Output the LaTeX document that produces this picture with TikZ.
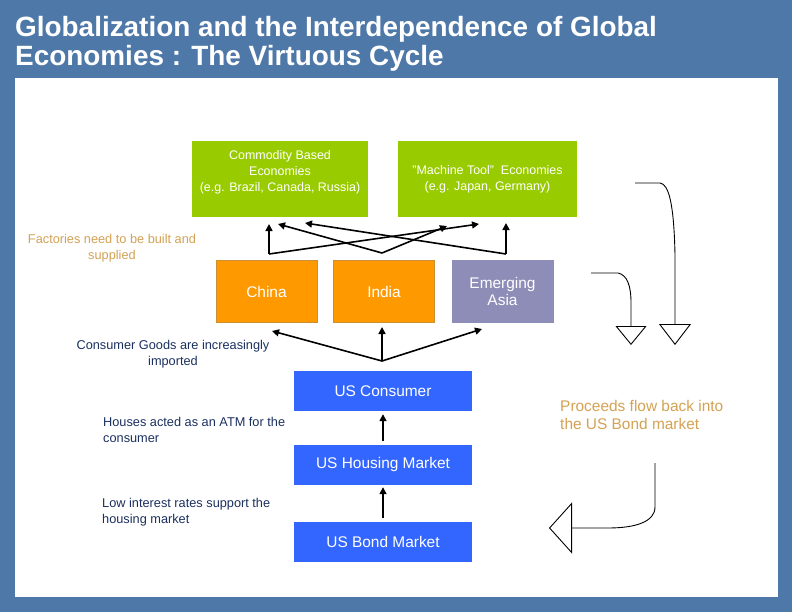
\documentclass[tikz,border=0pt]{standalone}
\usepackage{fontspec}
\setmainfont{Liberation Sans}
\usetikzlibrary{arrows.meta,positioning}
\definecolor{slate}{RGB}{78,120,168}
\definecolor{lime}{RGB}{153,204,0}
\definecolor{tangerine}{RGB}{255,153,0}
\definecolor{lilac}{RGB}{141,141,183}
\definecolor{royal}{RGB}{51,102,255}
\definecolor{sand}{RGB}{212,162,84}
\definecolor{navy}{RGB}{28,48,96}
\tikzset{
  >={Triangle[length=7bp,width=7bp]},
  solid box/.style={fill=#1,text=white,align=center,inner sep=0pt,
    font=\fontsize{15.5}{18}\selectfont},
  solid box/.default=royal,
  box text/.style={text=white,align=center,inner sep=0pt,
    font=\fontsize{12.5}{16}\selectfont},
  flow/.style={->,line width=1.6bp,draw=black},
  back/.style={draw=black,line width=0.9bp,-{Triangle[open,#1]}},
  tag/.style={text=#1,inner sep=0pt,font=\fontsize{12.8}{15.5}\selectfont},
  tag/.default=navy,
}
\begin{document}
\begin{tikzpicture}[x=1bp,y=-1bp]
  \fill[slate] (0,0) rectangle (792,612);
  \fill[white] (15,78) rectangle (778,597);
  \useasboundingbox (0,0) rectangle (792,612);
  \node[anchor=north west,inner sep=0pt,align=left,text=white,
    font=\fontsize{28}{29}\selectfont\bfseries] (title) at (15,16)
    {Globalization and the Interdependence of Global\\Economies : The Virtuous Cycle};

  % supplier economies
  \node[solid box=lime,minimum width=176bp,minimum height=76bp] (comm) at (280,179) {};
  \node[box text] (commtext) at (280,172) {Commodity Based\\Economies\\(e.g. Brazil, Canada, Russia)};
  \node[solid box=lime,minimum width=179bp,minimum height=76bp,font=\fontsize{12.5}{16}\selectfont]
    (mach) at (487.5,179) {"Machine Tool"\ \ Economies\\(e.g. Japan, Germany)};

  % manufacturing economies
  \foreach \t/\c/\b/\x/\n in {China/tangerine/tangerine!60!gray/266.5/china,
      India/tangerine/tangerine!60!gray/384/india,{Emerging\\Asia}/lilac/lilac/502.5/asia}
    \node[solid box=\c,draw=\b,line width=0.7bp,minimum width=101bp,minimum height=62bp] (\n) at (\x,291.5) {\t};

  % US side
  \foreach \t/\y/\n in {US Consumer/391/cons,US Housing Market/465/hous,US Bond Market/542/bond}
    \node[solid box,minimum width=178bp,minimum height=40bp] (\n) at (383,\y) {\t};
  \draw[flow,shorten <=4bp,shorten >=3bp] (hous) -- (cons);
  \draw[flow,shorten <=4bp,shorten >=2bp] (bond) -- (hous);

  \coordinate (uj) at (382,361);
  \coordinate (cu) at (272,331);
  \coordinate (iu) at (382,327);
  \coordinate (au) at (482,329);
  \foreach \e in {cu,iu,au} \draw[flow] (uj) -- (\e);

  \coordinate (cb) at (269,254);
  \coordinate (ib) at (382,253);
  \coordinate (ab) at (506,254);
  \coordinate (c1) at (269,224);
  \coordinate (c2) at (278,224);
  \coordinate (c3) at (305,223);
  \coordinate (m1) at (447,226);
  \coordinate (m2) at (479,224);
  \coordinate (m3) at (506,223);
  \foreach \s/\e in {cb/c1,cb/m2,ib/c2,ib/m1,ab/m3,ab/c3} \draw[flow] (\s) -- (\e);

  % money flowing back
  \coordinate (r1s) at (635,183);
  \coordinate (r1e) at (675,345);
  \coordinate (r2s) at (591,273);
  \coordinate (r2e) at (631,345);
  \coordinate (r3s) at (655,463);
  \coordinate (r3e) at (549,528);
  \draw[back={length=21bp,width=32bp}] (r1s) -- (660,183)
    .. controls (669,184) and (674,205) .. (675,255) -- (r1e);
  \draw[back={length=19bp,width=31bp}] (r2s) -- (618,273)
    .. controls (627,275) and (631,285) .. (631,303) -- (r2e);
  \draw[back={length=23bp,width=51bp}] (r3s) -- (655,507)
    .. controls (655,522) and (635,528) .. (608,528) -- (r3e);

  \node[tag=sand,align=center] (fact) at (112,248) {Factories need to be built and\\supplied};
  \node[tag,align=center] (goods) at (173,354) {Consumer Goods are increasingly\\imported};
  \node[tag,align=left,anchor=west] (atm) at (103,430) {Houses acted as an ATM for the\\consumer};
  \node[tag,align=left,anchor=west] (rates) at (102,512) {Low interest rates support the\\housing market};
  \node[tag=sand,align=left,anchor=west,font=\fontsize{15.5}{19}\selectfont] (proc) at (560,415)
    {Proceeds flow back into\\the US Bond market};
\end{tikzpicture}
\end{document}
